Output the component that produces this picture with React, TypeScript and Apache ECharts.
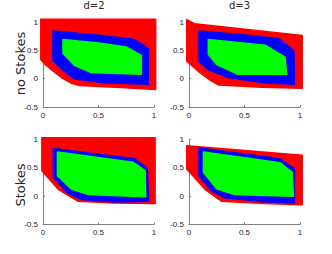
import React, { useEffect, useRef } from "react";
import * as echarts from "echarts";

const columnTitles = ["d=2", "d=3"];
const rowTitles = ["no Stokes", "Stokes"];
const xTicks = { min: 0, max: 1, step: 0.5 };
const yTicks = { min: -0.5, max: 1, step: 0.5 };

// [x, y] vertices of each region, per panel (TL, TR, BL, BR)
const redNoStokesD2 = [[-0.02, 1.05], [1.015, 1.05], [1.015, -0.19], [0.74, -0.16], [0.33, -0.12], [0.255, -0.08], [0.165, 0.02], [0.075, 0.16], [0.02, 0.25], [-0.02, 0.34]];
const blueNoStokesD2 = [[0.09, 0.84], [0.526, 0.76], [0.826, 0.69], [0.948, 0.53], [0.948, -0.1], [0.556, -0.07], [0.28, 0.0], [0.2, 0.12], [0.09, 0.32]];
const greenNoStokesD2 = [[0.18, 0.69], [0.5, 0.63], [0.75, 0.56], [0.886, 0.41], [0.886, 0.08], [0.43, 0.11], [0.286, 0.23], [0.18, 0.45]];

const redNoStokesD3 = [[-0.02, 1.04], [0.05, 0.97], [0.565, 0.86], [1.02, 0.76], [1.02, -0.17], [0.655, -0.15], [0.265, -0.11], [0.2, -0.04], [0.084, 0.13], [-0.02, 0.31]];
const blueNoStokesD3 = [[0.09, 0.84], [0.5, 0.77], [0.805, 0.71], [0.945, 0.49], [0.95, -0.1], [0.685, -0.07], [0.354, 0.02], [0.174, 0.16], [0.09, 0.31]];
const greenNoStokesD3 = [[0.174, 0.69], [0.685, 0.59], [0.865, 0.38], [0.88, 0.076], [0.44, 0.076], [0.25, 0.25], [0.174, 0.43]];

const redStokesD2 = [[-0.01, 1.03], [1.01, 1.03], [1.01, -0.13], [0.64, -0.12], [0.317, -0.09], [0.137, 0.12], [-0.01, 0.45]];
const blueStokesD2 = [[0.093, 0.84], [0.825, 0.66], [0.94, 0.49], [0.95, -0.09], [0.65, -0.105], [0.35, -0.06], [0.22, 0.06], [0.093, 0.33]];
const greenStokesD2 = [[0.13, 0.78], [0.81, 0.6], [0.92, 0.45], [0.925, -0.01], [0.41, 0.03], [0.26, 0.12], [0.13, 0.36]];

const redStokesD3 = [[-0.02, 0.89], [1.02, 0.72], [1.02, -0.15], [0.685, -0.13], [0.295, -0.09], [0.144, 0.12], [-0.02, 0.48]];
const blueStokesD3 = [[0.09, 0.85], [0.82, 0.66], [0.95, 0.48], [0.95, -0.12], [0.685, -0.1], [0.324, -0.03], [0.2, 0.1], [0.09, 0.36]];
const greenStokesD3 = [[0.13, 0.78], [0.82, 0.59], [0.93, 0.42], [0.94, 0.0], [0.41, 0.03], [0.25, 0.13], [0.13, 0.42]];

const panels = [
  [redNoStokesD2, blueNoStokesD2, greenNoStokesD2],
  [redNoStokesD3, blueNoStokesD3, greenNoStokesD3],
  [redStokesD2, blueStokesD2, greenStokesD2],
  [redStokesD3, blueStokesD3, greenStokesD3],
];
const regionColors = ["#ff0000", "#0000ff", "#00ff00"];

const gridBoxes = [
  { left: 43, top: 22, width: 111, height: 85 },
  { left: 189, top: 22, width: 111, height: 85 },
  { left: 43, top: 139.5, width: 111, height: 85 },
  { left: 189, top: 139.5, width: 111, height: 85 },
];

export default function App() {
  const ref = useRef<HTMLDivElement>(null);
  useEffect(() => {
    if (!ref.current) return;
    const chart = echarts.init(ref.current, undefined, { renderer: "svg" });
    const axisColor = "#808080";
    const labelStyle = { fontSize: 8, color: "#262626", fontFamily: "Liberation Sans" };

    const xAxis = gridBoxes.map((_, i) => ({
      gridIndex: i,
      type: "value",
      min: xTicks.min,
      max: xTicks.max,
      interval: xTicks.step,
      axisLine: { show: true, onZero: false, lineStyle: { color: axisColor, width: 1 } },
      axisTick: { show: true, inside: true, length: 2, lineStyle: { color: axisColor } },
      splitLine: { show: false },
      axisLabel: { ...labelStyle, margin: 4 },
    }));
    const yAxis = gridBoxes.map((_, i) => ({
      gridIndex: i,
      type: "value",
      min: yTicks.min,
      max: yTicks.max,
      interval: yTicks.step,
      axisLine: { show: true, onZero: false, lineStyle: { color: axisColor, width: 1 } },
      axisTick: { show: true, inside: true, length: 2, lineStyle: { color: axisColor } },
      splitLine: { show: false },
      axisLabel: { ...labelStyle, margin: 5 },
    }));

    const series: any[] = [];
    panels.forEach((regions, pi) => {
      regions.forEach((pts, ri) => {
        const color = regionColors[ri];
        series.push({
          type: "custom",
          xAxisIndex: pi,
          yAxisIndex: pi,
          clip: false,
          z: 2 + ri,
          data: pts,
          renderItem: (params: any, api: any) => {
            if (params.dataIndex !== 0) return null;
            const points = pts.map((p) => api.coord(p));
            return {
              type: "polygon",
              shape: { points },
              style: { fill: color, stroke: color, lineWidth: 1.5, lineJoin: "round" },
            };
          },
        });
      });
    });

    const titleFont = { fontSize: 10, fill: "#262626", fontFamily: "DejaVu Sans" };
    const rowFont = { fontSize: 13, fill: "#262626", fontFamily: "DejaVu Sans" };

    chart.setOption({
      animation: false,
      grid: gridBoxes.map((g) => ({ ...g, containLabel: false })),
      xAxis,
      yAxis,
      series,
      graphic: [
        { type: "text", x: 94, y: 5.5, style: { text: columnTitles[0], align: "center", verticalAlign: "middle", ...titleFont } },
        { type: "text", x: 239.5, y: 5.5, style: { text: columnTitles[1], align: "center", verticalAlign: "middle", ...titleFont } },
        { type: "text", x: 20, y: 63.5, rotation: Math.PI / 2, style: { text: rowTitles[0], align: "center", verticalAlign: "middle", ...rowFont } },
        { type: "text", x: 20, y: 185, rotation: Math.PI / 2, style: { text: rowTitles[1], align: "center", verticalAlign: "middle", ...rowFont } },
      ],
    });
    return () => chart.dispose();
  }, []);
  return <div ref={ref} style={{ position: "fixed", left: 0, top: 0, width: 332, height: 254, background: "#fff" }} />;
}
